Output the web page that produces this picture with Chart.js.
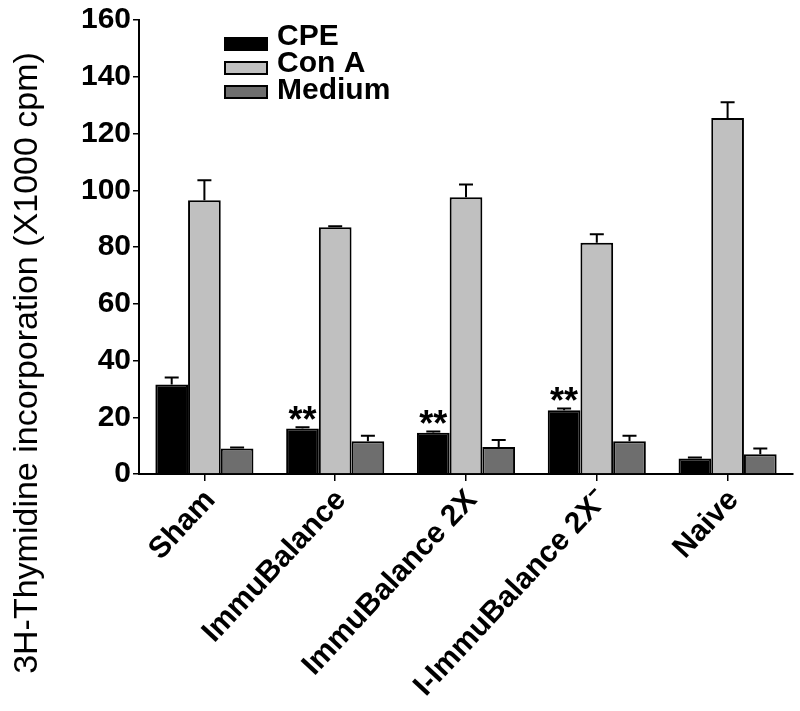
<!DOCTYPE html>
<html>
<head>
<meta charset="utf-8">
<script src="https://cdn.jsdelivr.net/npm/chart.js@4.4.1/dist/chart.umd.min.js"></script>
<style>
  html, body { margin: 0; padding: 0; background: #fff; }
  #wrap { width: 800px; height: 711px; }
</style>
</head>
<body>
<div id="wrap"><canvas id="chart" width="800" height="711"></canvas></div>
<script>
// groups on the x axis
const categories = ['Sham', 'ImmuBalance', 'ImmuBalance 2X', 'I-ImmuBalance 2X\u207B', 'Naive'];

// 3H-thymidine incorporation (x1000 cpm), mean and error
const cpe = [31.5, 16, 14.5, 22.5, 5.5];
const cpeErr = [2.5, 0.5, 0.5, 0.6, 0.3];
const conA = [96.5, 87, 97.5, 81.5, 125.5];
const conAErr = [7, 0.3, 4.5, 3, 5.5];
const medium = [9, 11.5, 9.5, 11.5, 7];
const mediumErr = [0.3, 2, 2.5, 2, 2];

// significance marks over the CPE bars
const cpeStars = ['', '**', '**', '**', ''];

const yTicks = [0, 20, 40, 60, 80, 100, 120, 140, 160];
const yTitle = '3H-Thymidine incorporation (X1000 cpm)';

const FONT = "'Liberation Sans', Arial, sans-serif";

document.addEventListener('DOMContentLoaded', function() {
    const errors = [cpeErr, conAErr, mediumErr];

    // error bars on top of every bar, then the stars
    const errorBars = {
        id: 'errorBars',
        afterDatasetsDraw(chart) {
            const ctx = chart.ctx;
            const y = chart.scales.y;
            ctx.save();
            ctx.strokeStyle = '#000';
            ctx.lineWidth = 2;
            chart.data.datasets.forEach((ds, i) => {
                chart.getDatasetMeta(i).data.forEach((bar, j) => {
                    const err = errors[i][j];
                    const top = y.getPixelForValue(ds.data[j] + err);
                    const base = y.getPixelForValue(ds.data[j]);
                    ctx.beginPath();
                    ctx.moveTo(bar.x, base);
                    ctx.lineTo(bar.x, top);
                    ctx.moveTo(bar.x - 7, top);
                    ctx.lineTo(bar.x + 7, top);
                    ctx.stroke();
                });
            });
            ctx.fillStyle = '#000';
            ctx.font = 'bold 36px ' + FONT;
            ctx.textAlign = 'center';
            ctx.textBaseline = 'alphabetic';
            chart.getDatasetMeta(0).data.forEach((bar, j) => {
                if (!cpeStars[j]) return;
                const top = y.getPixelForValue(cpe[j] + cpeErr[j]);
                // asterisks sit high in the em box
                ctx.fillText(cpeStars[j], bar.x, top - 16 + 21);
            });
            ctx.restore();
        }
    };

    // stacked legend in the upper left of the plot
    const boxLegend = {
        id: 'boxLegend',
        afterDraw(chart) {
            const ctx = chart.ctx;
            ctx.save();
            ctx.font = 'bold 30px ' + FONT;
            ctx.textAlign = 'left';
            ctx.textBaseline = 'alphabetic';
            chart.data.datasets.forEach((ds, i) => {
                const boxTop = 38 + i * 24;
                const baseline = 45 + i * 27;
                ctx.fillStyle = ds.backgroundColor;
                ctx.strokeStyle = '#000';
                ctx.lineWidth = 2;
                ctx.fillRect(225, boxTop, 42, 12);
                ctx.strokeRect(225, boxTop, 42, 12);
                ctx.fillStyle = '#000';
                ctx.fillText(ds.label, 277, baseline);
            });
            ctx.restore();
        }
    };

    // y axis title, centred lower than the plot like the original
    const sideTitle = {
        id: 'sideTitle',
        afterDraw(chart) {
            const ctx = chart.ctx;
            ctx.save();
            ctx.translate(37, 363);
            ctx.rotate(-Math.PI / 2);
            ctx.font = '34px ' + FONT;
            ctx.fillStyle = '#000';
            ctx.textAlign = 'center';
            ctx.textBaseline = 'alphabetic';
            ctx.fillText(yTitle, 0, 0);
            ctx.restore();
        }
    };

    const ctx = document.getElementById('chart').getContext('2d');
    new Chart(ctx, {
        type: 'bar',
        data: {
            labels: categories,
            datasets: [
                { label: 'CPE', data: cpe, backgroundColor: '#000000' },
                { label: 'Con A', data: conA, backgroundColor: '#c0c0c0' },
                { label: 'Medium', data: medium, backgroundColor: '#6e6e6e' }
            ]
        },
        options: {
            responsive: false,
            animation: false,
            layout: { padding: { left: 0, right: 7, top: 18, bottom: 0 } },
            datasets: {
                bar: {
                    borderColor: '#000',
                    borderWidth: 2,
                    categoryPercentage: 0.75,
                    barPercentage: 1
                }
            },
            plugins: {
                legend: { display: false },
                tooltip: { enabled: false }
            },
            scales: {
                x: {
                    afterFit(scale) { scale.height = 237; },
                    grid: {
                        offset: false,
                        drawOnChartArea: false,
                        drawTicks: true,
                        tickLength: 7,
                        color: '#000',
                        lineWidth: 1.5
                    },
                    border: { color: '#000', width: 2 },
                    ticks: {
                        color: '#000',
                        font: { family: FONT, size: 30, weight: 'bold' },
                        minRotation: 47,
                        maxRotation: 47,
                        padding: 2,
                        labelOffset: 6,
                        autoSkip: false
                    }
                },
                y: {
                    min: 0,
                    max: 160,
                    afterFit(scale) { scale.width = 139; },
                    afterBuildTicks(scale) {
                        scale.ticks = yTicks.map(v => ({ value: v }));
                    },
                    grid: {
                        drawOnChartArea: false,
                        drawTicks: true,
                        tickLength: 6,
                        color: '#000',
                        lineWidth: 1.5
                    },
                    border: { color: '#000', width: 2 },
                    ticks: {
                        color: '#000',
                        font: { family: FONT, size: 30, weight: 'bold' },
                        padding: 2
                    }
                }
            }
        },
        plugins: [errorBars, boxLegend, sideTitle]
    });
});
</script>
</body>
</html>
